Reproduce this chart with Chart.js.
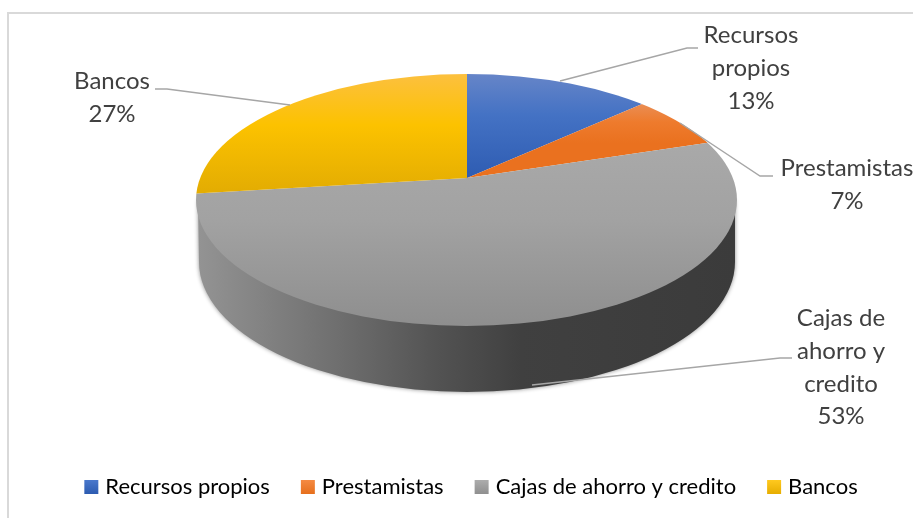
<!DOCTYPE html>
<html>
<head>
<meta charset="utf-8">
<style>html,body{margin:0;padding:0;background:#fff}canvas{display:block}</style>
<script src="https://cdn.jsdelivr.net/npm/chart.js@4"></script>
</head>
<body>
<canvas id="c" width="913" height="518"></canvas>
<script>
const categories = ['Recursos propios', 'Prestamistas', 'Cajas de ahorro y credito', 'Bancos'];
const shares = [13, 7, 53, 27];
const labelLines = [['Recursos', 'propios'], ['Prestamistas'], ['Cajas de', 'ahorro y', 'credito'], ['Bancos']];
const labelCenters = [[751, 43], [847, 176], [841, 326], [112, 89]];
const leaderLines = [
  [[560, 81], [687, 48], [698, 48]],
  [[680, 123], [760, 176], [773, 176]],
  [[532, 385], [780, 358], [792, 358]],
  [[290, 105], [167, 89], [155, 89]]
];
const sliceStops = [
  [[74, '#6685c8'], [115, '#4472c4'], [178, '#2e5cb2']],
  [[104, '#ea8d53'], [122, '#ee7b2d'], [143, '#ea711f']],
  [[143, '#a9a9a9'], [220, '#a2a2a2'], [326, '#8e8e8e']],
  [[74, '#fcc03f'], [125, '#fcc200'], [190, '#e4ad02']]
];
const swatchStops = [['#4a78cc', '#2c5bb0'], ['#f58a42', '#e66f1c'], ['#adadad', '#8f8f8f'], ['#ffc91f', '#e6ad00']];

const APEX = {x: 467, y: 178}, TOP = {cx: 466.5, cy: 200, rx: 270.5, ry: 126}, BASE = {cx: 467, cy: 262, rx: 268, ry: 130};
const RADIUS = 200, SX = 1.7, SY = 1.7 * 0.45;

function centre(chart) {
  const a = chart.chartArea;
  return {x: (a.left + a.right) / 2, y: (a.top + a.bottom) / 2};
}
function sliceFill(ctx) {
  const chart = ctx.chart;
  if (!chart.chartArea) return '#888';
  const c = centre(chart), stops = sliceStops[ctx.dataIndex];
  const toY = y => c.y + (y - APEX.y) / SY;
  const first = stops[0][0], last = stops[stops.length - 1][0];
  const g = chart.ctx.createLinearGradient(0, toY(first), 0, toY(last));
  stops.forEach(s => g.addColorStop((s[0] - first) / (last - first), s[1]));
  return g;
}

const pie3d = {
  id: 'pie3d',
  beforeDraw(chart) {
    const ctx = chart.ctx;
    ctx.save();
    ctx.strokeStyle = '#d9d9d9';
    ctx.lineWidth = 2;
    ctx.strokeRect(8, 13, 1000, 700);
    ctx.restore();
  },
  beforeDatasetsDraw(chart) {
    const ctx = chart.ctx;
    ctx.save();
    const side = ctx.createLinearGradient(BASE.cx - BASE.rx, 0, BASE.cx + BASE.rx, 0);
    side.addColorStop(0, '#939393');
    side.addColorStop(0.25, '#707070');
    side.addColorStop(0.45, '#525252');
    side.addColorStop(0.6, '#404040');
    side.addColorStop(1, '#3b3b3b');
    ctx.shadowColor = 'rgba(0,0,0,0.45)';
    ctx.shadowBlur = 4;
    ctx.fillStyle = side;
    ctx.beginPath();
    ctx.moveTo(TOP.cx - TOP.rx + 2, TOP.cy);
    ctx.lineTo(BASE.cx - BASE.rx, BASE.cy);
    ctx.ellipse(BASE.cx, BASE.cy, BASE.rx, BASE.ry, 0, Math.PI, 0, true);
    ctx.lineTo(TOP.cx + TOP.rx - 2, TOP.cy);
    ctx.closePath();
    ctx.fill();
    ctx.restore();

    ctx.save();
    ctx.beginPath();
    ctx.ellipse(TOP.cx, TOP.cy, TOP.rx, TOP.ry, 0, 0, Math.PI * 2);
    ctx.clip();
    const c = centre(chart);
    ctx.translate(APEX.x, APEX.y);
    ctx.scale(SX, SY);
    ctx.translate(-c.x, -c.y);
  },
  afterDatasetsDraw(chart) {
    const ctx = chart.ctx;
    ctx.restore();
    ctx.save();
    ctx.strokeStyle = '#a6a6a6';
    ctx.lineWidth = 1.4;
    leaderLines.forEach(pts => {
      ctx.beginPath();
      pts.forEach((p, i) => i ? ctx.lineTo(p[0], p[1]) : ctx.moveTo(p[0], p[1]));
      ctx.stroke();
    });
    ctx.fillStyle = '#404040';
    ctx.font = '24px Lato';
    ctx.textAlign = 'center';
    ctx.textBaseline = 'alphabetic';
    categories.forEach((_, i) => {
      const lines = labelLines[i].concat(shares[i] + '%');
      lines.forEach((t, n) => ctx.fillText(t, labelCenters[i][0], labelCenters[i][1] + n * 32.8));
    });
    ctx.restore();
  }
};

new Chart(document.getElementById('c'), {
  type: 'pie',
  data: {
    labels: categories,
    datasets: [{
      data: shares,
      backgroundColor: sliceFill,
      borderWidth: 0,
      radius: RADIUS,
      clip: false
    }]
  },
  options: {
    responsive: false,
    animation: false,
    layout: {padding: {left: 33, bottom: 10}},
    plugins: {
      tooltip: {enabled: false},
      legend: {
        position: 'bottom',
        labels: {
          boxWidth: 6,
          boxHeight: 6,
          padding: 35,
          color: '#595959',
          font: {family: 'Lato', size: 22},
          generateLabels(chart) {
            return categories.map((text, i) => {
              const g = chart.ctx.createLinearGradient(0, 480, 0, 494);
              g.addColorStop(0, swatchStops[i][0]);
              g.addColorStop(1, swatchStops[i][1]);
              return {text, fillStyle: g, strokeStyle: g, lineWidth: 8, hidden: false, index: i};
            });
          }
        }
      }
    }
  },
  plugins: [pie3d]
});
</script>
</body>
</html>
